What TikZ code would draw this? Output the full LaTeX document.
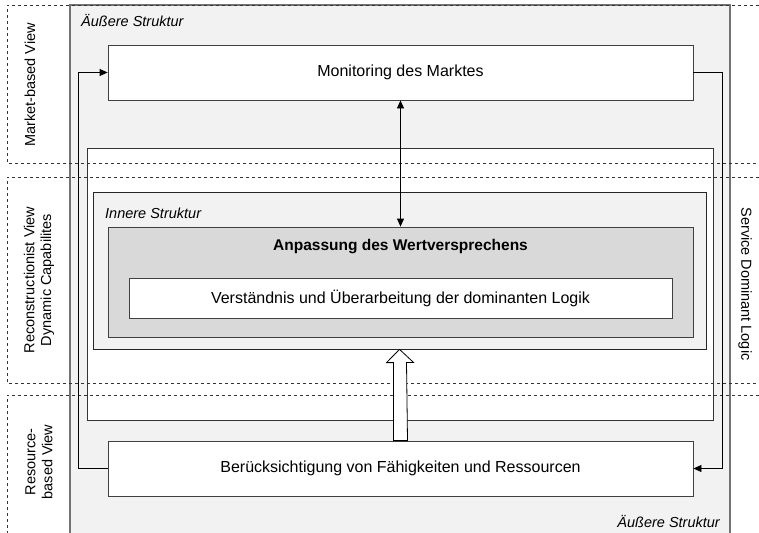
\documentclass[tikz,border=0pt]{standalone}
\usepackage{fontspec}
\setmainfont{Liberation Sans}
\usetikzlibrary{calc}
\usetikzlibrary{positioning}
\usetikzlibrary{arrows.meta}
\definecolor{lightgrey}{HTML}{F2F2F2}
\definecolor{midgrey}{HTML}{D9D9D9}
\tikzstyle{stepbox} = [draw=black!75, fill=white, line width=0.8pt, minimum width=585pt, minimum height=55pt, font=\fontsize{16}{19}\selectfont]
\tikzstyle{viewlabel} = [rotate=90, align=center, font=\fontsize{14.5}{17}\selectfont]
\tikzstyle{structlabel} = [font=\fontsize{14.5}{17}\selectfont\itshape, inner sep=0pt]
\tikzstyle{band} = [dashed, line width=0.6pt, black!80]
\tikzstyle{flow} = [-{Triangle[length=8pt,width=7pt]}, line width=0.8pt]

\begin{document}
\begin{tikzpicture}[x=1pt, y=-1pt]
  \useasboundingbox (0,0) rectangle (759,532);

  % aeussere Struktur
  \draw[fill=lightgrey, draw=black!55, line width=1.5pt] (70,5) rectangle (730,545);
  \node[structlabel, anchor=west] (aussenoben) at (81,21) {Äußere Struktur};
  \node[structlabel, anchor=east] (aussenunten) at (720,522) {Äußere Struktur};
  \draw[fill=white, draw=black!80, line width=0.8pt] (87,148) rectangle (713,420);

  % Sichten
  \draw[band] (765,5) -- (7,5) -- (7,163) -- (765,163);
  \draw[band] (765,177) -- (7,177) -- (7,383) -- (765,383);
  \draw[band] (765,395) -- (7,395) -- (7,545);
  \node[viewlabel] (market) at (30,85) {Market-based View};
  \node[viewlabel] (recon) at (39,280) {Reconstructionist View\\Dynamic Capabilites};
  \node[viewlabel] (resource) at (39,462) {Resource-\\based View};
  \node[viewlabel, rotate=180] (service) at (745,284) {Service Dominant Logic};

  % innere Struktur
  \node[draw=black!85, fill=lightgrey, line width=0.8pt, minimum width=613pt, minimum height=157pt] (innen) at (399.5,270.5) {};
  \node[structlabel, anchor=west] (innenlabel) at (105,213) {Innere Struktur};
  \node[stepbox, fill=midgrey, minimum height=110pt] (anpassung) at (400.5,282) {};
  \node[font=\fontsize{15.5}{18}\selectfont\bfseries] (anptitel) at (400.5,247) {Anpassung des Wertversprechens};
  \node[stepbox, minimum width=543pt, minimum height=40pt] (logik) at (400.5,298) {Verständnis und Überarbeitung der dominanten Logik};

  \node[stepbox] (monitoring) at (400.5,72.5) {Monitoring des Marktes};
  \node[stepbox] (ressourcen) at (400.5,468.5) {Berücksichtigung von Fähigkeiten und Ressourcen};

  \draw[{Triangle[length=8pt,width=7pt]}-{Triangle[length=8pt,width=7pt]}, line width=0.8pt] (monitoring) -- (anpassung);
  \draw[flow] (ressourcen.west) -- ++(-29,0) |- (monitoring.west);
  \draw[flow] (monitoring.east) -- ++(29,0) |- (ressourcen.east);
  \draw[fill=white, line width=0.8pt] ($(ressourcen.north)+(-7,0)$) -- ++(0,-78) -- ++(-7,0)
    -- (innen.south) -- ++(14,13) -- ++(-7,0) -- ($(ressourcen.north)+(7,0)$) -- cycle;
\end{tikzpicture}
\end{document}
